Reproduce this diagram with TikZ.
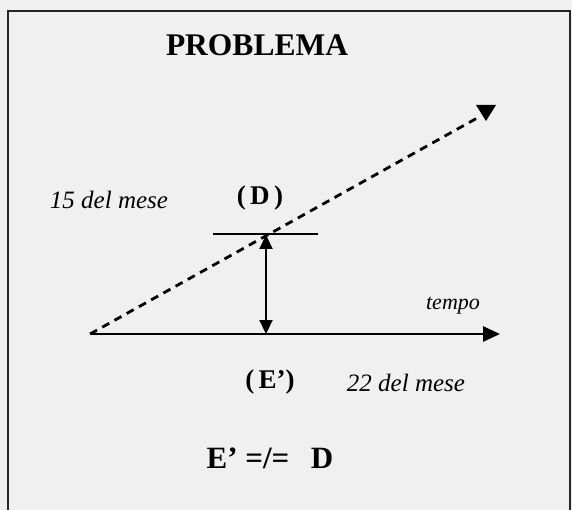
\documentclass[tikz,border=0pt]{standalone}
\usepackage{fontspec}
\setmainfont{Liberation Serif}
\usetikzlibrary{arrows.meta}
\begin{document}
\begin{tikzpicture}[x=1pt,y=-1pt,
  lbl/.style={inner sep=0pt,anchor=center},
  itl/.style={lbl,font=\fontsize{25}{25}\selectfont\itshape},
  bld/.style={lbl,font=\fontsize{27}{27}\selectfont\bfseries},
  axis/.style={line width=2.8pt,-{Triangle[length=17pt,width=15pt]}},
  trend/.style={line width=2.8pt,dash pattern=on 8pt off 6pt},
  gap/.style={line width=2.2pt,{Triangle[length=14pt,width=13pt]}-{Triangle[length=14pt,width=13pt]}},
  frameline/.style={line width=2pt,draw=black!85}]
\useasboundingbox (0,0) rectangle (572,510);
\fill[black!6] (0,0) rectangle (572,510);
\draw[frameline] (8,510) -- (8,11) -- (570,11) -- (570,510);
\node[lbl,font=\fontsize{31.5}{31.5}\selectfont\bfseries] (title) at (257,45) {PROBLEMA};
\coordinate (o) at (90,334);
\coordinate (tend) at (500,334);
\coordinate (dend) at (479,117);
\coordinate (tip) at (486,121);
\draw[trend] (o) -- (dend);
\fill (476,105) -- (496,105) -- (tip) -- cycle;
\draw[axis] (o) -- (tend);
\coordinate (hl) at (213,234);
\coordinate (hr) at (318,234);
\draw[line width=2pt] (hl) -- (hr);
\coordinate (gtop) at (266,235);
\coordinate (gbot) at (266,334);
\draw[gap] (gtop) -- (gbot);
\node[itl] (d15) at (109,200) {15 del mese};
\node[bld] (D) at (260,198) {(\,D\,)};
\node[lbl,font=\fontsize{22}{22}\selectfont\itshape] (tempo) at (453,306) {tempo};
\node[bld] (E) at (270,382) {(\,E’)};
\node[itl] (d22) at (406,383) {22 del mese};
\node[lbl,font=\fontsize{31}{31}\selectfont\bfseries] (eq) at (270,458) {E’ =/=\;\, D};
\end{tikzpicture}
\end{document}
